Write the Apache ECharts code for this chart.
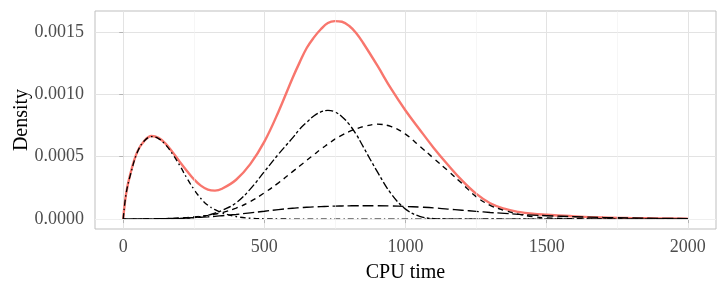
<!DOCTYPE html>
<html><head><meta charset="utf-8">
<script src="https://cdn.jsdelivr.net/npm/echarts@6/dist/echarts.min.js"></script>
<style>html,body{margin:0;padding:0;background:#fff}#c{width:727px;height:291px}</style>
</head><body><div id="c"></div>
<script>
// CPU time grid (x values)
const xs = [0,10,25,50,75,100,125,150,175,200,225,250,275,300,325,350,400,450,500,550,600,625,650,675,700,725,750,775,800,825,850,900,950,1000,1050,1100,1150,1200,1250,1300,1350,1400,1450,1500,1600,1700,1800,1900,2000];
// overall density (red)
const densityAll = [0,0.0002,0.00036,0.00054,0.000627,0.000665,0.00065,0.000605,0.000535,0.00046,0.000388,0.00032,0.000268,0.000236,0.000228,0.000243,0.000315,0.00044,0.00062,0.00086,0.00113,0.001255,0.00137,0.001453,0.00152,0.00157,0.001585,0.00158,0.001548,0.00149,0.00141,0.00123,0.00104,0.00087,0.000718,0.00057,0.000435,0.00031,0.000204,0.000127,0.000083,0.000058,0.000043,0.000035,0.000022,0.000013,0.000008,0.000005,0.000004];
// mixture components
const comp1 = [0,0.0002,0.00035,0.000535,0.000627,0.00066,0.000645,0.000595,0.00052,0.00043,0.00033,0.00024,0.000165,0.00011,0.000075,0.00005,0.00002,0.000007,0.000002,0.000001,0,0,0,0,0,0,0,0,0,0,0,0,0,0,0,0,0,0,0,0,0,0,0,0,0,0,0,0,0];
const comp2 = [0,0,0,0,0,0.000001,0.000001,0.000002,0.000003,0.000005,0.000008,0.000012,0.00002,0.00003,0.000047,0.00007,0.00013,0.00024,0.00038,0.00052,0.00065,0.00072,0.000775,0.000825,0.000858,0.00087,0.000858,0.00082,0.00076,0.00068,0.00058,0.00038,0.0002,0.00008,0.000022,0.000004,0.000001,0,0,0,0,0,0,0,0,0,0,0,0];
const comp3 = [0,0,0,0.000001,0.000001,0.000002,0.000003,0.000004,0.000006,0.000009,0.000012,0.000017,0.000023,0.00003,0.00004,0.000052,0.000088,0.00014,0.00021,0.00029,0.00038,0.000425,0.00047,0.000515,0.00056,0.0006,0.00064,0.000672,0.0007,0.000722,0.00074,0.00076,0.00074,0.00068,0.000585,0.000486,0.000388,0.000285,0.00018,0.00011,0.00007,0.00004,0.00002,0.00001,0.000003,0.000001,0,0,0];
const comp4 = [0,0,0,0.000001,0.0000015,0.000002,0.000003,0.000004,0.000005,0.000007,0.000009,0.000012,0.000015,0.000018,0.000022,0.000027,0.000037,0.00005,0.000063,0.000076,0.000087,0.000091,0.000095,0.000098,0.0001,0.000102,0.000104,0.000105,0.000106,0.000107,0.000107,0.000107,0.000105,0.000101,0.000096,0.00009,0.00008,0.000071,0.000062,0.000053,0.000046,0.000038,0.000032,0.000027,0.000019,0.000013,0.000009,0.000006,0.000004];

const xTicks = [0,500,1000,1500,2000];
const yTicks = [0,0.0005,0.001,0.0015];
const xMinor = [250,750,1250,1750];
const yMinor = [0.00025,0.00075,0.00125];

const pairs = arr => xs.map((x,i)=>[x,arr[i]]);
const FONT = "'Liberation Serif', 'DejaVu Serif', serif";

const blackLine = (name, arr, dash) => ({
  name, type:'line', data: pairs(arr), showSymbol:false, smooth:0.4,
  lineStyle:{color:'#000', width:1.35, type:dash}, z:4, silent:true, animation:false
});

const chart = echarts.init(document.getElementById('c'), null, {renderer:'canvas'});
chart.setOption({
  animation:false,
  grid:{left:95, right:11, top:11, bottom:62, containLabel:false, outerBoundsMode:'none',
    show:true, borderColor:'#bfbfbf', borderWidth:1, backgroundColor:'transparent'},
  xAxis:{
    type:'value', min:-100, max:2100,
    name:'CPU time', nameLocation:'middle', nameGap:34, nameMoveOverlap:false,
    nameTextStyle:{fontFamily:FONT, fontSize:20, color:'#000'},
    axisLine:{show:false},
    axisTick:{show:true, length:4, lineStyle:{color:'#b3b3b3'}, customValues:xTicks},
    axisLabel:{fontFamily:FONT, fontSize:18, color:'#4d4d4d', margin:9, customValues:xTicks,
      formatter:v=>String(v)},
    splitLine:{show:true, lineStyle:{color:'#e3e3e3', width:1}}
  },
  yAxis:{
    type:'value', min:-0.0000794, max:0.0016664,
    name:'Density', nameLocation:'middle', nameGap:63, nameRotate:90, nameMoveOverlap:false,
    nameTextStyle:{fontFamily:FONT, fontSize:20, color:'#000'},
    axisLine:{show:false},
    axisTick:{show:true, length:4, lineStyle:{color:'#b3b3b3'}, customValues:yTicks},
    axisLabel:{fontFamily:FONT, fontSize:18, color:'#4d4d4d', margin:11, customValues:yTicks,
      formatter:v=>v.toFixed(4)},
    splitLine:{show:true, lineStyle:{color:'#e3e3e3', width:1}}
  },
  series:[
    {type:'line', data:[], silent:true, z:1,
      markLine:{silent:true, symbol:['none','none'], label:{show:false}, animation:false,
        lineStyle:{color:'#f0f0f0', width:0.6, type:'solid'},
        data: xMinor.map(v=>({xAxis:v})).concat(yMinor.map(v=>({yAxis:v})))}},
    {name:'all', type:'line', data:pairs(densityAll), showSymbol:false, smooth:0.4,
      lineStyle:{color:'#F8766D', width:2.4}, z:3, silent:true},
    blackLine('c1', comp1, [6,3,1.5,3]),
    blackLine('c2', comp2, [3,2.5,8,2.5]),
    blackLine('c3', comp3, [5.5,4.5]),
    blackLine('c4', comp4, [11,4])
  ]
});
</script></body></html>
